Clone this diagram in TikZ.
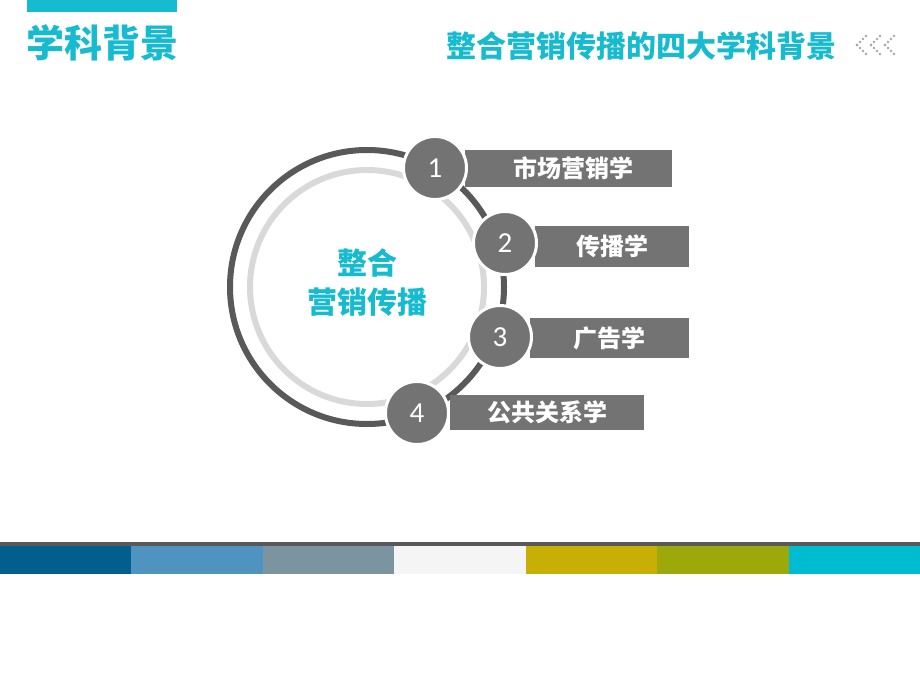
\documentclass[tikz,border=0pt]{standalone}
\usepackage{fontspec}
\setmainfont{Carlito}
\newfontfamily\cjk{Noto Sans CJK SC}
\definecolor{qing}{HTML}{17BBCF}
\definecolor{huihei}{HTML}{595959}
\definecolor{huiqian}{HTML}{D9D9D9}
\definecolor{huizhong}{HTML}{737373}
\definecolor{dian}{HTML}{A6A6A6}
\tikzset{
  num/.style={circle,fill=huizhong,draw=white,line width=3pt,minimum size=63pt,inner sep=0pt,text=white,font=\fontsize{29}{29}\selectfont},
  lab/.style={fill=huizhong,inner sep=0pt,text=white,font=\cjk\bfseries\fontsize{24}{24}\selectfont},
  ti/.style={text=qing,inner sep=0pt,font=\cjk\bfseries}
}
\begin{document}
\begin{tikzpicture}[x=1pt,y=-1pt]
        \useasboundingbox[fill=white] (0,0) rectangle (920,690);
        % titles
        \fill[qing] (27,0) rectangle (177,12);
        \node[ti,font=\cjk\bfseries\fontsize{38}{38}\selectfont] (zhuti) at (102,43) {学科背景};
        \node[ti,font=\cjk\bfseries\fontsize{30}{30}\selectfont] (futi) at (641,46) {整合营销传播的四大学科背景};
        \foreach \x in {857,871,885}
          \foreach \i in {0,...,3}{
            \fill[dian] (\x+3*\i,45-3*\i) circle (1.4);
            \fill[dian] (\x+3*\i,45+3*\i) circle (1.4);
          }
        % rings
        \coordinate (zhong) at (367,287);
        \draw[huiqian,line width=6pt] (zhong) circle (117);
        \draw[huihei,line width=6pt] (zhong) circle (137);
        \node[ti,font=\cjk\bfseries\fontsize{30}{30}\selectfont,align=center] (hexin) at (367,283) {整合\\[9pt]营销传播};
        % subjects
        \node[lab,minimum width=207pt,minimum height=37pt] (k1) at (568.5,168.5) {\hspace{10pt}市场营销学};
        \node[lab,minimum width=154pt,minimum height=41pt] (k2) at (612,246.5) {传播学\hspace{6pt}};
        \node[lab,minimum width=159pt,minimum height=40pt] (k3) at (609.5,338) {广告学\hspace{3pt}};
        \node[lab,minimum width=194pt,minimum height=35pt] (k4) at (547,412.5) {公共关系学};
        \node[num] (n1) at (435,168) {1};
        \node[num] (n2) at (505,243) {2};
        \node[num] (n3) at (500,337) {3};
        \node[num] (n4) at (417,413) {4};
        % colour band
        \fill[huihei] (0,542) rectangle (920,546);
        \foreach \c [count=\k from 0] in {005F8C,4F93C0,7A959F,F5F5F5,C8AF05,9DA80A,00BCD0}{
          \definecolor{tiao}{HTML}{\c}
          \fill[tiao] (920/7*\k,546) rectangle (920/7*\k+920/7,574);
        }
\end{tikzpicture}
\end{document}
